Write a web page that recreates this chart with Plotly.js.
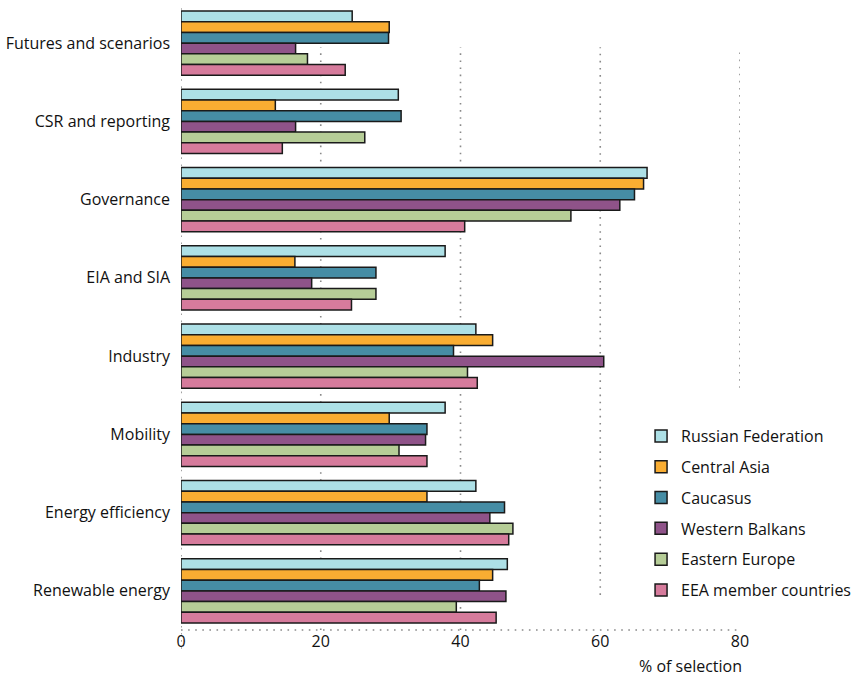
<!DOCTYPE html>
<html>
<head>
<meta charset="utf-8">
<script src="https://cdn.plot.ly/plotly-3.0.1.min.js"></script>
<style>html,body{margin:0;padding:0;background:#fff;}#chart{width:853px;height:676px;}</style>
</head>
<body>
<div id="chart"></div>
<script>
const categories = ["Futures and scenarios", "CSR and reporting", "Governance", "EIA and SIA", "Industry", "Mobility", "Energy efficiency", "Renewable energy"];
const seriesNames = ["Russian Federation", "Central Asia", "Caucasus", "Western Balkans", "Eastern Europe", "EEA member countries"];
const russianFederation = [24.5, 31.1, 66.7, 37.8, 42.2, 37.8, 42.2, 46.7];
const centralAsia       = [29.8, 13.5, 66.2, 16.3, 44.6, 29.8, 35.2, 44.6];
const caucasus          = [29.7, 31.5, 64.9, 27.9, 39.0, 35.2, 46.3, 42.7];
const westernBalkans    = [16.4, 16.4, 62.8, 18.7, 60.5, 35.0, 44.2, 46.5];
const easternEurope     = [18.1, 26.3, 55.8, 27.9, 41.0, 31.2, 47.5, 39.4];
const eeaMembers        = [23.5, 14.5, 40.6, 24.4, 42.4, 35.2, 46.9, 45.1];
const xTicks = [0, 20, 40, 60, 80];

const seriesValues = [russianFederation, centralAsia, caucasus, westernBalkans, easternEurope, eeaMembers];
const colors = ["#ade0e6", "#f9ad32", "#468da5", "#8f5389", "#b6cd97", "#d67b9c"];

const traces = seriesNames.map((name, i) => ({
  type: "bar",
  orientation: "h",
  name: name,
  legendgroup: "g" + i,
  y: categories,
  x: seriesValues[i],
  marker: {color: colors[i], line: {color: "#1a1a1a", width: 1.5}},
  hoverinfo: "x+name"
}));

const dot = {color: "#8a8a8a", width: 1.6, dash: "1.6px,5.5px"};
// gridline extents (paper fraction) as drawn in the original
const gridTop = 0.931;
const gridBottoms = [0, 0, 0, 0.056, 0.387];
const shapes = [];
xTicks.forEach((t, i) => {
  if (i === 0) return;
  shapes.push({type: "line", xref: "x", yref: "paper", x0: t, x1: t, y0: gridBottoms[i], y1: gridTop, line: dot, layer: "below"});
});
shapes.push({type: "line", xref: "x", yref: "paper", x0: 0, x1: 0, y0: -0.03, y1: 1.0, line: dot, layer: "below"});
shapes.push({type: "line", xref: "x", yref: "paper", x0: 0, x1: 80, y0: 0, y1: 0, line: dot, layer: "below"});

const layout = {
  width: 853,
  height: 676,
  margin: {l: 181, r: 113, t: 4, b: 46, autoexpand: false},
  paper_bgcolor: "#fff",
  plot_bgcolor: "#fff",
  font: {family: "Open Sans, sans-serif", size: 16, color: "#111"},
  barmode: "group",
  bargap: 0.18,
  bargroupgap: 0,
  showlegend: true,
  legend: {
    x: 0.823, y: 0.337, xanchor: "left", yanchor: "top",
    font: {family: "Open Sans, sans-serif", size: 16, color: "#111"},
    tracegroupgap: 7,
    bgcolor: "rgba(0,0,0,0)"
  },
  xaxis: {
    range: [0, 80],
    tickvals: xTicks,
    ticktext: xTicks.map(String),
    showgrid: false,
    zeroline: false,
    showline: false,
    ticks: "",
    tickfont: {size: 16, color: "#111"},
    fixedrange: true
  },
  yaxis: {
    autorange: "reversed",
    showgrid: false,
    zeroline: false,
    showline: false,
    ticks: "",
    ticklabelstandoff: 10,
    tickfont: {size: 16, color: "#111"},
    fixedrange: true
  },
  shapes: shapes,
  annotations: [{
    text: "% of selection", xref: "paper", yref: "paper",
    x: 0.912, y: -0.058, xanchor: "center", yanchor: "middle",
    showarrow: false, font: {size: 16, color: "#111"}
  }]
};

Plotly.newPlot("chart", traces, layout, {displayModeBar: false, staticPlot: true});
</script>
</body>
</html>
